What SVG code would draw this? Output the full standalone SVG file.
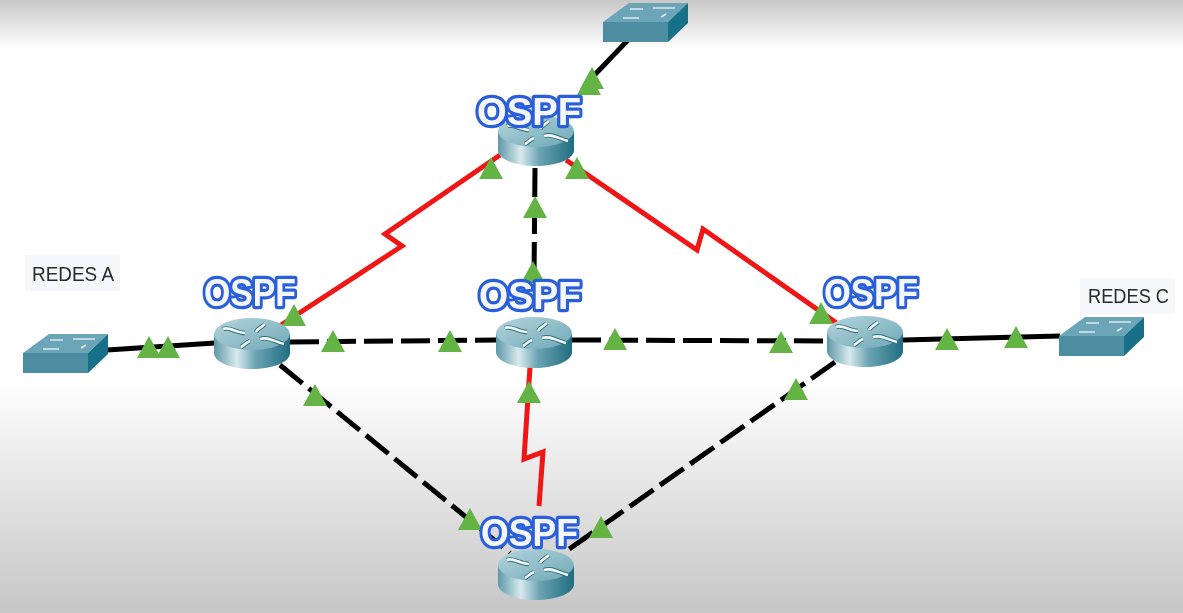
<svg xmlns="http://www.w3.org/2000/svg" width="1183" height="613" viewBox="0 0 1183 613">
<style>
.cable{fill:none;stroke:#000;stroke-width:5}
.dash{stroke-dasharray:29 8}
.serial{fill:none;stroke:#f01414;stroke-width:5}
.label{font-family:"Liberation Sans",Arial,sans-serif;font-weight:bold;font-size:39px;fill:#f4f7fd;stroke:#2b5fdb;stroke-width:6.5;paint-order:stroke;stroke-linejoin:round}
.note{font-family:"Liberation Sans",Arial,sans-serif;font-size:20px;fill:#2b2b2b}
.notebox{fill:#f6f7fb}
.light{fill:#63b344}
</style>
<defs>
<linearGradient id="bg" x1="0" y1="0" x2="0" y2="1">
<stop offset="0" stop-color="#c8c8c8"/><stop offset="0.08" stop-color="#ffffff"/><stop offset="0.62" stop-color="#ffffff"/><stop offset="1" stop-color="#c6c6c6"/>
</linearGradient>
<linearGradient id="body" x1="0" y1="0" x2="1" y2="0">
<stop offset="0" stop-color="#5d98a8"/><stop offset="0.3" stop-color="#d8eaee"/><stop offset="0.55" stop-color="#6ba3b3"/><stop offset="1" stop-color="#1f6d80"/>
</linearGradient>
<linearGradient id="rtop" x1="0" y1="0" x2="1" y2="1">
<stop offset="0" stop-color="#b5d5dc"/><stop offset="1" stop-color="#6fa8b7"/>
</linearGradient>
<filter id="soft" x="-2%" y="-2%" width="104%" height="104%"><feGaussianBlur stdDeviation="0.7"/></filter>
<g id="router">
<path d="M0 16V35C0 44 17 51 38 51S76 44 76 35V16Z" fill="url(#body)"/>
<ellipse cx="38" cy="16" rx="38" ry="16" fill="url(#rtop)"/>
<path d="M9 11C15 8 22 15 31 15M27 29C31 27 31 25 36 23M42 14C44 10 48 9 51 6M46 21C54 18 61 24 70 26" fill="none" stroke="#2f6f80" stroke-width="4.5"/>
<path d="M9 11C15 8 22 15 31 15M27 29C31 27 31 25 36 23M42 14C44 10 48 9 51 6M46 21C54 18 61 24 70 26" fill="none" stroke="#f2f8fa" stroke-width="2.6"/>
</g>
<g id="switch">
<path d="M26 0H85L65 19H0Z" fill="#6ca5b7"/>
<path d="M0 19H65V39H0Z" fill="#4d8da2"/>
<path d="M65 19L85 0V20L65 39Z" fill="#176f87"/>
<path d="M27 6H40M50 5H72M20 15H36M58 14L63 11" fill="none" stroke="#dceaee" stroke-width="1.6"/>
</g>
<path id="tri" class="light" d="M0 -11L12 11H-12Z"/>
</defs>
<rect id="background" width="1183" height="613" fill="url(#bg)"/>
<g filter="url(#soft)">
<g id="connectors">
<path class="cable" d="M628 40L585 85"/>
<path class="cable" d="M107 350L215 343"/>
<path class="cable" d="M903 340L1060 336"/>
<path class="cable dash" d="M535 168L534 280"/>
<path class="cable dash" d="M290 342L496 340"/>
<path class="cable dash" d="M572 340L828 341"/>
<path class="cable dash" d="M280 365L510 553"/>
<path class="cable dash" d="M835 362L565 552"/>
<path class="serial" d="M281 325L402 246L385 234L500 155"/>
<path class="serial" d="M566 160L697 250L703 229L838 324"/>
<path class="serial" d="M530 367L524 459L543 452L539 506"/>
<use href="#tri" x="592" y="78"/>
<use href="#tri" x="589" y="84"/>
<use href="#tri" x="491" y="168"/>
<use href="#tri" x="577" y="168"/>
<use href="#tri" x="535" y="207"/>
<use href="#tri" x="533" y="272"/>
<use href="#tri" x="294" y="315"/>
<use href="#tri" x="149" y="347"/>
<use href="#tri" x="168" y="347"/>
<use href="#tri" x="333" y="341"/>
<use href="#tri" x="450" y="341"/>
<use href="#tri" x="615" y="339"/>
<use href="#tri" x="781" y="342"/>
<use href="#tri" x="821" y="313"/>
<use href="#tri" x="947" y="339"/>
<use href="#tri" x="1016" y="337"/>
<use href="#tri" x="315" y="395"/>
<use href="#tri" x="529" y="392"/>
<use href="#tri" x="796" y="389"/>
<use href="#tri" x="470" y="519"/>
<use href="#tri" x="601" y="527"/>
</g>
<g id="switch-top"><use href="#switch" x="603" y="3"/></g>
<g id="switch-a"><use href="#switch" x="23" y="334"/></g>
<g id="switch-c"><use href="#switch" x="1059" y="317"/></g>
<g id="router-top"><use href="#router" x="498" y="115"/><text class="label" x="477" y="125" textLength="104" lengthAdjust="spacingAndGlyphs">OSPF</text></g>
<g id="router-left"><use href="#router" x="214" y="318"/><text class="label" x="204" y="306" textLength="92" lengthAdjust="spacingAndGlyphs">OSPF</text></g>
<g id="router-center"><use href="#router" x="496" y="317"/><text class="label" x="479" y="309" textLength="102" lengthAdjust="spacingAndGlyphs">OSPF</text></g>
<g id="router-right"><use href="#router" x="827" y="316"/><text class="label" x="824" y="306" textLength="94" lengthAdjust="spacingAndGlyphs">OSPF</text></g>
<g id="router-bottom"><use href="#router" x="498" y="549"/><text class="label" x="481" y="546" textLength="97" lengthAdjust="spacingAndGlyphs">OSPF</text></g>
<g id="note-a"><rect class="notebox" x="25" y="255" width="95" height="36"/><text class="note" x="32" y="281" textLength="82" lengthAdjust="spacingAndGlyphs">REDES A</text></g>
<g id="note-c"><rect class="notebox" x="1080" y="278" width="95" height="36"/><text class="note" x="1088" y="303" textLength="81" lengthAdjust="spacingAndGlyphs">REDES C</text></g>
</g>
</svg>
